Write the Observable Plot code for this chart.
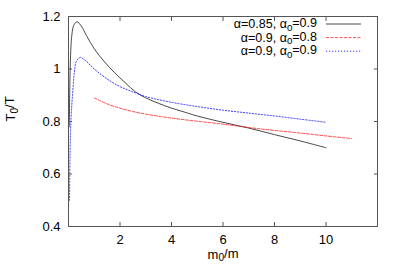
<!DOCTYPE html>
<html>
<head>
<meta charset="utf-8">
<script src="https://cdn.jsdelivr.net/npm/d3@7"></script>
<script src="https://cdn.jsdelivr.net/npm/@observablehq/plot@0.6"></script>
<style>
  html, body { margin: 0; padding: 0; background: white; }
  #chart { width: 400px; height: 280px; }
</style>
</head>
<body>
<div id="chart"></div>
<script>
// ---- data ----
const seriesNames = ["α=0.85, α_0=0.9", "α=0.9, α_0=0.8", "α=0.9, α_0=0.9"];

const blackX = [0.03, 0.05, 0.08, 0.12, 0.2, 0.33, 0.5, 0.7, 1.0, 1.4, 1.8, 2.2, 2.6, 3.0, 3.5, 4.0, 4.5, 5.0, 6.0, 7.0, 8.0, 9.0, 10.0];
const blackY = [0.78, 0.93, 1.05, 1.12, 1.165, 1.18, 1.163, 1.127, 1.077, 1.027, 0.985, 0.948, 0.913, 0.89, 0.869, 0.851, 0.836, 0.821, 0.797, 0.775, 0.75, 0.726, 0.70];

const redX = [1.0, 1.5, 2.0, 2.5, 3.0, 4.0, 5.0, 6.0, 7.0, 8.0, 9.0, 10.0, 11.0];
const redY = [0.89, 0.867, 0.851, 0.838, 0.828, 0.813, 0.801, 0.79, 0.777, 0.766, 0.756, 0.745, 0.735];

const blueX = [0.04, 0.06, 0.1, 0.16, 0.23, 0.3, 0.45, 0.65, 1.0, 1.5, 2.0, 2.6, 3.0, 4.0, 5.0, 6.0, 7.0, 8.0, 9.0, 10.0];
const blueY = [0.50, 0.68, 0.815, 0.907, 0.99, 1.028, 1.044, 1.033, 1.0, 0.962, 0.933, 0.909, 0.895, 0.873, 0.857, 0.843, 0.832, 0.821, 0.809, 0.797];

const xTicks = [2, 4, 6, 8, 10];
const yTicks = [0.4, 0.6, 0.8, 1.0, 1.2];
const xLabel = "m_0/m";
const yLabel = "T_0/T";

// ---- styles ----
const seriesStyle = [
  {stroke: "#1a1a1a", dash: null, width: 0.8},
  {stroke: "#ff0000", dash: "3,1.5", width: 0.7},
  {stroke: "#0000ff", dash: "1.2,1.8", width: 0.8}
];

const toRows = (xs, ys, s) => xs.map((x, i) => ({x, y: ys[i], s}));
const rows = [
  ...toRows(blackX, blackY, 0),
  ...toRows(redX, redY, 1),
  ...toRows(blueX, blueY, 2)
];

const lineMarks = seriesStyle.map((st, i) =>
  Plot.line(rows.filter(d => d.s === i), {
    x: "x", y: "y", curve: "catmull-rom",
    stroke: st.stroke, strokeWidth: st.width, strokeDasharray: st.dash
  })
);

const chart = Plot.plot({
  width: 400,
  height: 280,
  marginLeft: 68,
  marginRight: 23,
  marginTop: 16,
  marginBottom: 54,
  style: {fontFamily: "'Liberation Sans', Arial, Helvetica, sans-serif", fontSize: "13px", background: "white", color: "#000"},
  x: {domain: [0, 12], label: null},
  y: {domain: [0.4, 1.2], label: null},
  marks: [
    ...lineMarks,
    Plot.axisX(xTicks, {anchor: "bottom", tickSize: 0, tickPadding: 8, label: null, fill: "#000"}),
    Plot.axisY(yTicks, {anchor: "left", tickSize: 0, tickPadding: 8, label: null, fill: "#000", tickFormat: d => d === 1 ? "1" : d3.format(".1f")(d)}),
    Plot.axisX(xTicks, {anchor: "bottom", tickSize: -4, fill: "none", label: null, stroke: "#555"}),
    Plot.axisX(xTicks, {anchor: "top", tickSize: -4, fill: "none", label: null, stroke: "#555"}),
    Plot.axisY(yTicks, {anchor: "left", tickSize: -4, fill: "none", label: null, stroke: "#555"}),
    Plot.axisY(yTicks, {anchor: "right", tickSize: -4, fill: "none", label: null, stroke: "#555"}),
    Plot.frame({stroke: "#555", strokeWidth: 1}),
    Plot.text([xLabel], {frameAnchor: "bottom", dy: 32, text: d => d, fill: "#000"}),
    Plot.text([yLabel], {frameAnchor: "left", dx: -58, rotate: -90, text: d => d, fill: "#000"})
  ]
});

document.getElementById("chart").appendChild(chart);

// ---- legend (top-right, inside the frame) ----
const svg = d3.select(chart);
const legendRight = 400 - 23 - 60; // right edge of legend text
const legendTop = 24;
const rowH = 13.6;
const leg = svg.append("g").attr("font-family", "'Liberation Sans', Arial, Helvetica, sans-serif").attr("font-size", 12.5);
seriesNames.forEach((name, i) => {
  const yy = legendTop + i * rowH;
  leg.append("text")
    .attr("x", legendRight).attr("y", yy).attr("dy", "0.32em")
    .attr("text-anchor", "end").attr("fill", "#000")
    .text(name);
  leg.append("line")
    .attr("x1", legendRight + 9).attr("x2", legendRight + 44)
    .attr("y1", yy).attr("y2", yy)
    .attr("stroke", seriesStyle[i].stroke)
    .attr("stroke-width", seriesStyle[i].width)
    .attr("stroke-dasharray", seriesStyle[i].dash);
});

// ---- convert "_0" into real subscripts ----
svg.selectAll("text").each(function () {
  const el = this;
  if (el.querySelector("tspan")) {
    el.querySelectorAll("tspan").forEach(sub);
  } else sub(el);
  function sub(node) {
    const t = node.textContent;
    if (!t.includes("_0")) return;
    const parts = t.split("_0");
    node.textContent = "";
    parts.forEach((p, k) => {
      if (k > 0) {
        const s = document.createElementNS("http://www.w3.org/2000/svg", "tspan");
        s.setAttribute("dy", "0.28em");
        s.setAttribute("font-size", "0.78em");
        s.textContent = "0";
        node.appendChild(s);
        const r = document.createElementNS("http://www.w3.org/2000/svg", "tspan");
        r.setAttribute("dy", "-0.28em");
        r.textContent = p;
        node.appendChild(r);
      } else {
        node.appendChild(document.createTextNode(p));
      }
    });
  }
});
</script>
</body>
</html>
